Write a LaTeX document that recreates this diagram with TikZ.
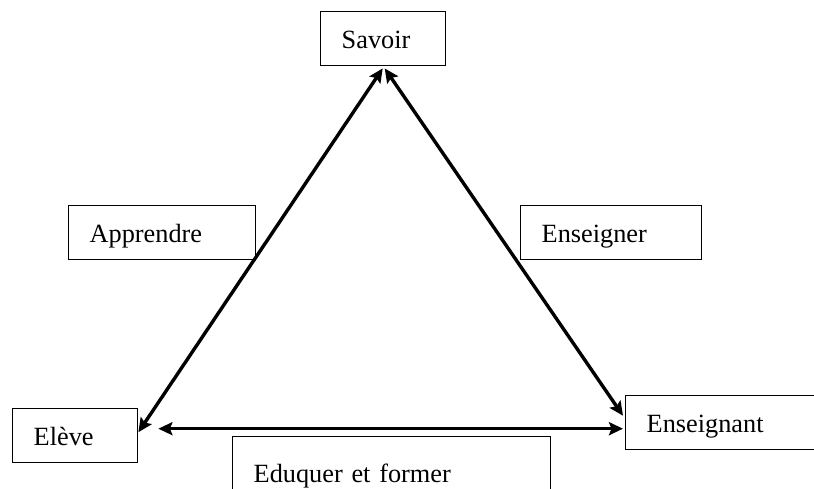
\documentclass[tikz,border=0pt]{standalone}
\usepackage{fontspec}
\setmainfont{Liberation Serif}
\usetikzlibrary{arrows.meta}
\begin{document}
\begin{tikzpicture}[x=1pt,y=-1pt,
  lbl/.style={draw, line width=1.4pt, anchor=north west, inner xsep=21pt, inner ysep=0pt,
    minimum height=54pt, align=left, text height=24pt, text depth=5pt,
    font=\fontsize{26.3}{30}\selectfont},
  link/.style={line width=3.4pt, {Stealth[length=14pt,width=13pt,inset=2.5pt]}-{Stealth[length=14pt,width=13pt,inset=2.5pt]}}]
\useasboundingbox (0,0) rectangle (814,488);
\clip (0,0) rectangle (814,488);

% the three poles of the triangle
\node[lbl, text width=83pt]  (sav) at (320,11)  {Savoir};
\node[lbl, text width=83pt]  (elv) at (12,408)  {Elève};
\node[lbl, text width=158pt] (ens) at (625,395) {Enseignant};

% the processes linking them
\node[lbl, text width=145pt] (app) at (68,205)  {Apprendre};
\node[lbl, text width=139pt] (ensg) at (520,205) {Enseigner};
\node[lbl, text width=276pt, minimum height=73pt] (edu) at (232,436) {Eduquer et former};

% end points of the horizontal link
\path ([xshift=-2pt,yshift=-6pt]ens.west) coordinate (hr);
\path ([xshift=20pt]elv.east |- hr) coordinate (hl);

% double-headed links
\draw[link] ([xshift=-0.5pt,yshift=-2pt]sav.south) -- ([yshift=3.5pt]elv.east);
\draw[link] ([xshift=1.5pt,yshift=-2pt]sav.south) -- ([xshift=-2pt,yshift=7pt]ens.west);
\draw[link] (hl) -- (hr);
\end{tikzpicture}
\end{document}
